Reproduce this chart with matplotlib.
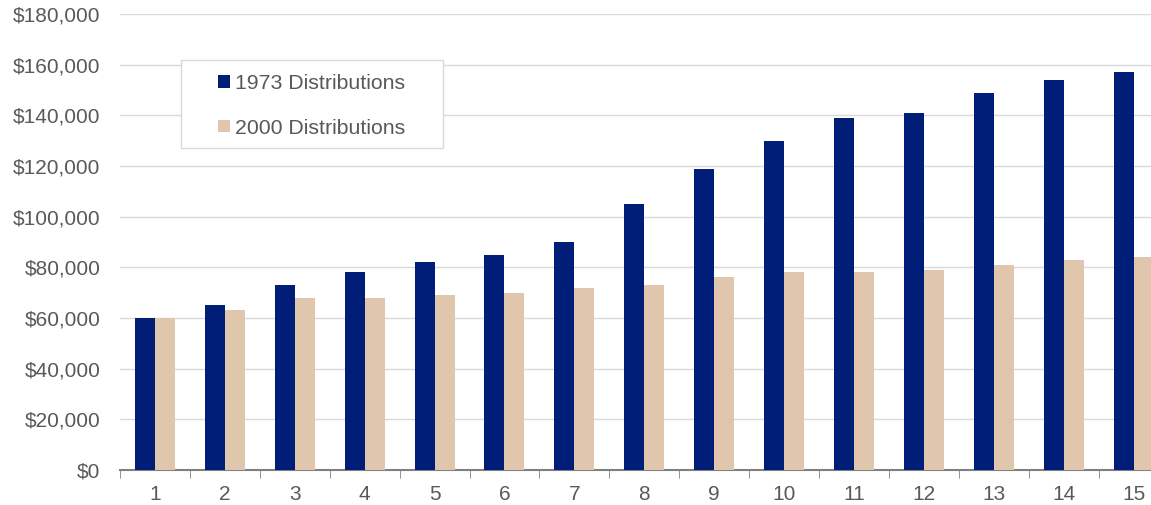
import numpy as np
import matplotlib.pyplot as plt
from matplotlib.ticker import FuncFormatter
from matplotlib.patches import Rectangle

plt.rcParams['font.family'] = ['Liberation Sans', 'DejaVu Sans']

years = np.arange(1, 16)
dist_1973 = [60000, 65000, 73000, 78000, 82000, 85000, 90000, 105000,
             119000, 130000, 139000, 141000, 149000, 154000, 157000]
dist_2000 = [60000, 63000, 68000, 68000, 69000, 70000, 72000, 73000,
             76000, 78000, 78000, 79000, 81000, 83000, 84000]

navy = '#001E78'
beige = '#E0C6AC'
grey = '#595959'

W, H = 1151, 505
fig = plt.figure(figsize=(W / 100, H / 100), dpi=100)
ax = fig.add_axes([120 / W, 35 / H, 1031 / W, 456 / H])

w = 0.286
ax.bar(years - w / 2, dist_1973, width=w, color=navy, label='1973 Distributions', zorder=3)
ax.bar(years + w / 2, dist_2000, width=w, color=beige, label='2000 Distributions', zorder=3)

ax.set_yticks(np.arange(0, 180001, 20000))
ax.yaxis.set_major_formatter(FuncFormatter(lambda v, p: '${:,.0f}'.format(v)))
ax.yaxis.grid(True, color='#D9D9D9', linewidth=1, zorder=0)
ax.set_axisbelow(True)

ax.set_xticks(years)
ax.set_xticklabels([str(y) for y in years])
ax.set_xticks(np.arange(0.5, 15, 1), minor=True)
ax.tick_params(axis='x', which='major', length=0, labelsize=15, labelcolor=grey, pad=11)
ax.tick_params(axis='x', which='minor', length=6, color='#808080', direction='out')
ax.tick_params(axis='y', length=0, labelsize=15, labelcolor=grey, pad=14)

ax.set_xlim(0.5, 0.5 + 1031 / 69.9)
ax.set_ylim(0, 180000)

for s in ['left', 'right', 'top']:
    ax.spines[s].set_visible(False)
ax.spines['bottom'].set_color('#808080')
ax.spines['bottom'].set_linewidth(1.5)

# legend box
ax.add_patch(Rectangle((181 / W, 1 - 148 / H), 262 / W, 88 / H,
                       transform=fig.transFigure, facecolor='white',
                       edgecolor='#D9D9D9', linewidth=1, zorder=4, clip_on=False))
leg = ax.legend(loc='upper left', bbox_to_anchor=(218 / W, 1 - 74 / H),
                bbox_transform=fig.transFigure,
                fontsize=15.3, frameon=False, handlelength=0.55,
                handleheight=0.55, handletextpad=0.25, labelspacing=1.2,
                borderpad=0, borderaxespad=0, labelcolor=grey)
leg.set_zorder(5)

fig.savefig('out.png', dpi=100)
